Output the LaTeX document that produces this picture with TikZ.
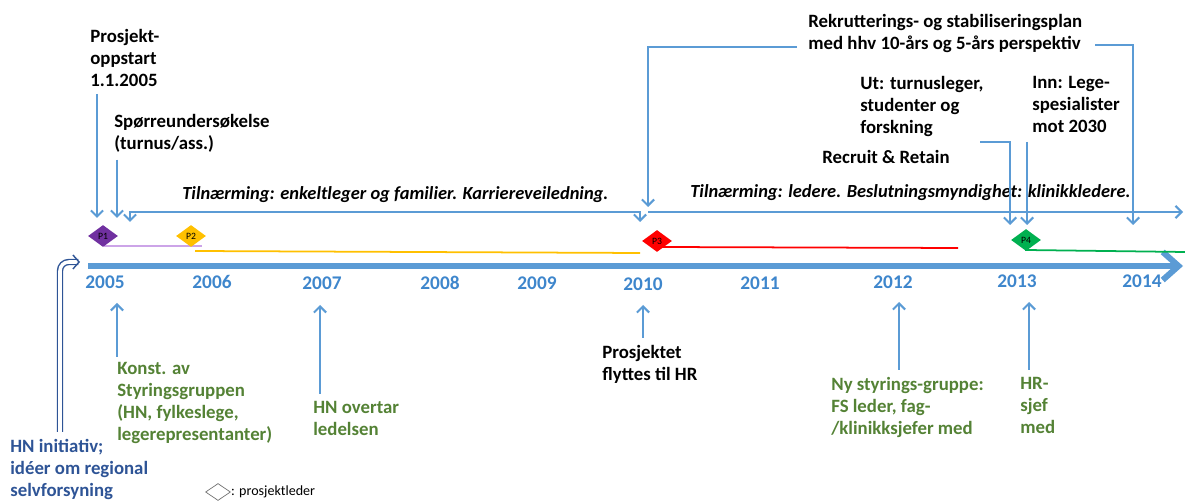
\documentclass[tikz,border=0pt]{standalone}
\usepackage{fontspec}
\setmainfont{Carlito}
\usetikzlibrary{arrows.meta,shapes.geometric}
\definecolor{lineblue}{RGB}{91,155,213}
\definecolor{yearblue}{RGB}{62,134,204}
\definecolor{hnblue}{RGB}{46,84,150}
\definecolor{textgreen}{RGB}{84,130,53}
\definecolor{p1purple}{RGB}{112,48,160}
\definecolor{p1lilac}{RGB}{204,164,232}
\definecolor{p2gold}{RGB}{255,192,0}
\definecolor{p3red}{RGB}{255,0,0}
\definecolor{p4green}{RGB}{0,176,80}

\begin{document}
\begin{tikzpicture}[x=0.02cm,y=-0.02cm,
    txt/.style={font=\bfseries\fontsize{10.7}{12.5}\selectfont,align=left,anchor=north west,inner sep=0pt},
    tiln/.style={font=\bfseries\itshape\fontsize{10.5}{12}\selectfont,anchor=west,inner sep=0pt},
    aar/.style={font=\bfseries\fontsize{11}{13}\selectfont,text=yearblue,inner sep=0pt},
    proj/.style={diamond,fill=#1,inner sep=0pt,minimum width=0.6cm,minimum height=0.44cm,font=\fontsize{5.5}{6}\selectfont},
    pil/.style={draw=lineblue,line width=1.15pt,-{Straight Barb[length=3.5pt,width=7pt]}}]
  \useasboundingbox (0,0) rectangle (1185,502);

  % tidslinje
  \coordinate (tlStart) at (88,266);
  \coordinate (tlEnd) at (1183,266);
  \draw[lineblue,line width=3.4pt,-{Straight Barb[length=9pt,width=16pt]}] (tlStart) -- (tlEnd);
  \node[aar] (y2005) at (105,282) {2005};
  \node[aar] (y2006) at (212,282) {2006};
  \node[aar] (y2007) at (322,283) {2007};
  \node[aar] (y2008) at (440,283) {2008};
  \node[aar] (y2009) at (537,283) {2009};
  \node[aar] (y2010) at (643,284) {2010};
  \node[aar] (y2011) at (760,283) {2011};
  \node[aar] (y2012) at (893,282) {2012};
  \node[aar] (y2013) at (1017,281) {2013};
  \node[aar] (y2014) at (1142,281) {2014};

  % prosjektledere
  \draw[p1lilac,line width=1.6pt] (104,246) -- (202,246);
  \draw[p2gold,line width=1pt] (195,251) -- (640,253);
  \draw[p3red,line width=1pt] (660,247) -- (958,248);
  \draw[p4green,line width=1pt] (1026,246) -- (1026,250) -- (1185,252);
  \node[proj=p1purple] (P1) at (103,236) {P1};
  \node[proj=p2gold] (P2) at (191,236) {P2};
  \node[proj=p3red] (P3) at (657,241) {P3};
  \node[proj=p4green] (P4) at (1026,240) {P4};

  % tekster over
  \node[txt] (oppstart) at (90,29) {Prosjekt-\\oppstart\\1.1.2005};
  \node[txt] (sporre) at (114,114) {Spørreundersøkelse\\(turnus/ass.)};
  \node[txt] (rekrutt) at (808,14) {Rekrutterings- og stabiliseringsplan\\med hhv 10-års og 5-års perspektiv};
  \node[txt] (ut) at (860,76) {Ut: turnusleger,\\studenter og\\forskning};
  \node[txt] (inn) at (1032,76) {Inn: Lege-\\spesialister\\mot 2030};
  \node[txt] (recruit) at (822,150) {Recruit \& Retain};
  \node[tiln] (tiln1) at (182,195) {Tilnærming: enkeltleger og familier. Karriereveiledning.};
  \node[tiln] (tiln2) at (690,193) {Tilnærming: ledere. Beslutningsmyndighet: klinikkledere.};

  \coordinate (tipA) at (97,218);
  \coordinate (tipB) at (117,218);
  \coordinate (brL) at (130,222);
  \coordinate (brR) at (640,222);
  \coordinate (tipRek) at (648,207);
  \coordinate (linjeR) at (1183,212);
  \coordinate (utStart) at (980,142);
  \coordinate (tipUt) at (1010,225);
  \coordinate (innStart) at (1027,142);
  \coordinate (tipInn) at (1027,225);
  \coordinate (rekStart) at (1095,45);
  \coordinate (tipRek2) at (1133,225);
  \draw[pil,shorten <=4pt] (tipA |- oppstart.south) -- (tipA);
  \draw[pil,shorten <=4pt] (tipB |- sporre.south) -- (tipB);
  \draw[pil,{Straight Barb[length=3.5pt,width=7pt]}-{Straight Barb[length=3.5pt,width=7pt]}] (brL) -- ++(0,-10) -| (brR);
  \draw[pil] (797,47) -| (tipRek);
  \draw[pil] (648,212) -- (linjeR);
  \draw[pil] (utStart) -| (tipUt);
  \draw[pil] (innStart) -- (tipInn);
  \draw[pil] (rekStart) -| (tipRek2);

  % tekster under
  \node[txt,text=textgreen] (konst) at (117,362) {Konst. av\\Styringsgruppen\\(HN, fylkeslege,\\legerepresentanter)};
  \node[txt,text=textgreen] (hnover) at (313,401) {HN overtar\\ledelsen};
  \node[txt] (flytt) at (602,345) {Prosjektet\\flyttes til HR};
  \node[txt,text=textgreen] (nystyr) at (831,377) {Ny styrings-gruppe:\\FS leder, fag-\\/klinikksjefer med};
  \node[txt,text=textgreen] (hrsjef) at (1020,377) {HR-\\sjef\\med};
  \node[txt,text=hnblue] (hninit) at (10,439) {HN initiativ;\\idéer om regional\\selvforsyning};

  \coordinate (upKonst) at (117,303);
  \coordinate (upHn) at (320,305);
  \coordinate (upFlytt) at (643,305);
  \coordinate (upNy) at (899,302);
  \coordinate (upHr) at (1029,302);
  \draw[pil,shorten <=3pt] (upKonst |- konst.north) -- (upKonst);
  \draw[pil,shorten <=4pt] (upHn |- hnover.north) -- (upHn);
  \draw[pil,shorten <=4pt] (upFlytt |- flytt.north) -- (upFlytt);
  \draw[pil,shorten <=4pt] (upNy |- nystyr.north) -- (upNy);
  \draw[pil,shorten <=4pt] (upHr |- hrsjef.north) -- (upHr);

  \coordinate (hnFoot) at (60,432);
  \coordinate (hnTip) at (80,262);
  \draw[hnblue,line width=0.8pt,double=white,double distance=2pt,rounded corners=5pt,-{Straight Barb[length=3.5pt,width=8pt]}] (hnFoot) |- (hnTip);

  % forklaring
  \node[diamond,draw=black!55,fill=white,inner sep=0pt,minimum width=0.5cm,minimum height=0.34cm] (leg) at (218,492) {};
  \node[anchor=west,inner sep=0pt,font=\fontsize{8}{9}\selectfont] (legtxt) at (leg.east) {: prosjektleder};
\end{tikzpicture}
\end{document}
